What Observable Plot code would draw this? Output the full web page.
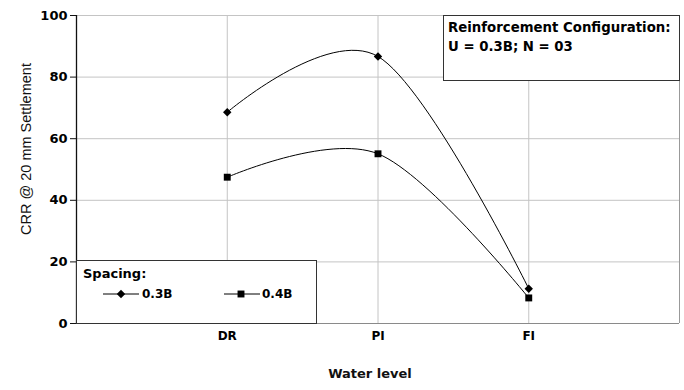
<!DOCTYPE html>
<html>
<head>
<meta charset="utf-8">
<script src="https://cdn.jsdelivr.net/npm/d3@7"></script>
<script src="https://cdn.jsdelivr.net/npm/@observablehq/plot@0.6"></script>
<style>
  html, body { margin: 0; padding: 0; background: #fff; }
  #wrap { position: relative; width: 684px; height: 390px; font-family: "DejaVu Sans", sans-serif; }
  .box { position: absolute; background: #fff; border: 1.5px solid #333; box-sizing: border-box; }
  #config { left: 443px; top: 15px; width: 237px; height: 66px; padding: 2px 0 0 4px;
            font: bold 13.3px "DejaVu Sans", sans-serif; line-height: 19px; color: #000; white-space: nowrap; }
  #legend { left: 76px; top: 260px; width: 241px; height: 64px; }
  #legend svg { position: absolute; left: 0; top: 0; }
  #ylabel { position: absolute; left: 26px; top: 149px; transform: translate(-50%, -50%) rotate(-90deg);
            font: 14.5px "Liberation Sans", Arial, sans-serif; color: #111; white-space: nowrap; }
</style>
</head>
<body>
<div id="wrap"></div>
<script>
// ---- data ----
const categories = ["DR", "PI", "FI"];
const seriesNames = ["0.3B", "0.4B"];
const crr03 = [68.6, 86.7, 11.3];
const crr04 = [47.5, 55.1, 8.3];
const yTicks = [0, 20, 40, 60, 80, 100];
const yLabel = "CRR @ 20 mm Settlement";
const xLabel = "Water level";
const legendTitle = "Spacing:";
const configLines = ["Reinforcement Configuration:", "U = 0.3B; N = 03"];

const rows = [];
categories.forEach((c, i) => {
  rows.push({pos: i + 1, cat: c, series: seriesNames[0], v: crr03[i]});
  rows.push({pos: i + 1, cat: c, series: seriesNames[1], v: crr04[i]});
});
const catPos = categories.map((c, i) => i + 1);

const chart = Plot.plot({
  width: 684,
  height: 390,
  marginLeft: 76,
  marginRight: 5,
  marginTop: 15,
  marginBottom: 67,
  style: {fontFamily: "DejaVu Sans, sans-serif", background: "#fff", color: "#000"},
  x: {domain: [0, categories.length + 1]},
  y: {domain: [0, 100]},
  marks: [
    Plot.gridY(yTicks.filter(d => d > 0), {stroke: "#c4c4c4", strokeOpacity: 1}),
    Plot.gridX(catPos, {stroke: "#c4c4c4", strokeOpacity: 1}),
    Plot.ruleX([categories.length + 1], {stroke: "#999"}),
    Plot.ruleY([0], {stroke: "#8a8a8a"}),
    Plot.ruleX([0], {stroke: "#111", strokeWidth: 1.3}),
    Plot.axisY(yTicks, {tickSize: 6, tickPadding: 3, fontSize: 13, fontWeight: "bold", label: null, stroke: "#111"}),
    Plot.axisX(catPos, {tickSize: 0, tickPadding: 8, fontSize: 12, fontWeight: "bold", label: null,
      tickFormat: d => categories[d - 1]}),
    Plot.line(rows, {x: "pos", y: "v", z: "series", curve: "cardinal", stroke: "#000", strokeWidth: 1}),
    Plot.dot(rows.filter(d => d.series === seriesNames[0]), {x: "pos", y: "v", symbol: "diamond2", r: 3.8, fill: "#000", stroke: "none"}),
    Plot.dot(rows.filter(d => d.series === seriesNames[1]), {x: "pos", y: "v", symbol: "square", r: 3.9, fill: "#000", stroke: "none"}),
    Plot.text([xLabel], {frameAnchor: "bottom", dx: -8, dy: 54, fontSize: 13, fontWeight: "bold", fill: "#111"})
  ]
});

const wrap = document.getElementById("wrap");
wrap.appendChild(chart);

// y axis title
const yl = document.createElement("div");
yl.id = "ylabel";
yl.textContent = yLabel;
wrap.appendChild(yl);

// config box
const cfg = document.createElement("div");
cfg.className = "box";
cfg.id = "config";
cfg.innerHTML = configLines.map(s => `<div>${s}</div>`).join("");
wrap.appendChild(cfg);

// legend box
const leg = document.createElement("div");
leg.className = "box";
leg.id = "legend";
const sym0 = d3.symbol(d3.symbolDiamond2, 3.8 * 3.8 * Math.PI)();
const sym1 = d3.symbol(d3.symbolSquare, 3.9 * 3.9 * Math.PI)();
leg.innerHTML = `<svg width="241" height="64" font-family="DejaVu Sans, sans-serif">
  <text x="6" y="12" dy="0.35em" font-size="13" font-weight="bold">${legendTitle}</text>
  <line x1="26" x2="62" y1="33" y2="33" stroke="#000"/>
  <path d="${sym0}" transform="translate(44,33)" fill="#000"/>
  <text x="65" y="33" dy="0.35em" font-size="12" font-weight="bold">${seriesNames[0]}</text>
  <line x1="147" x2="183" y1="33" y2="33" stroke="#000"/>
  <path d="${sym1}" transform="translate(164,33)" fill="#000"/>
  <text x="185" y="33" dy="0.35em" font-size="12" font-weight="bold">${seriesNames[1]}</text>
</svg>`;
wrap.appendChild(leg);
</script>
</body>
</html>
